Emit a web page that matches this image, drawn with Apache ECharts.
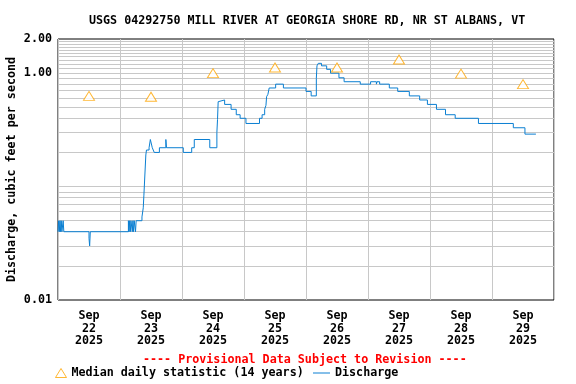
<!DOCTYPE html>
<html>
<head>
<meta charset="utf-8">
<script src="https://cdn.jsdelivr.net/npm/echarts@6/dist/echarts.min.js"></script>
<style>
html,body{margin:0;padding:0;background:#fff;}
#chart{width:576px;height:384px;}
</style>
</head>
<body>
<div id="chart"></div>
<script>
// ---- data ----
const titleText = 'USGS 04292750 MILL RIVER AT GEORGIA SHORE RD, NR ST ALBANS, VT';
const yAxisTitle = 'Discharge, cubic feet per second';
const provisionalText = '---- Provisional Data Subject to Revision ----';
const dayLabels = ['Sep\n22\n2025','Sep\n23\n2025','Sep\n24\n2025','Sep\n25\n2025','Sep\n26\n2025','Sep\n27\n2025','Sep\n28\n2025','Sep\n29\n2025'];
const yTickValues = [0.01, 1, 2];
const yTickLabels = ['0.01', '1.00', '2.00'];
const gridLineValues = [0.02,0.03,0.04,0.05,0.06,0.07,0.08,0.09,0.1,0.2,0.3,0.4,0.5,0.6,0.7,0.8,0.9,1.0,1.1,1.2,1.3,1.4,1.5,1.6,1.7,1.8,1.9];

// hours since Sep 22 00:00 where the discharge changes (value holds until next point)
const dischargeHours = [0,0.25,0.5,0.75,1.0,1.25,1.5,2.0,2.25,12.0,12.25,12.5,
  27.25,27.5,27.75,28.0,28.25,28.75,29.0,29.25,29.5,30.0,30.25,32.5,33.0,33.25,
  34.0,34.25,35.25,35.75,36.5,37.25,39.25,41.75,42.0,48.5,51.75,52.75,58.75,
  61.5,61.75,62.0,62.5,64.5,67.0,69.0,70.5,72.75,78.0,79.0,80.0,80.5,80.75,81.25,81.75,
  84.25,87.25,96.0,98.0,100.0,100.25,100.75,102.0,104.0,105.5,108.75,110.75,
  117.0,121.0,123.25,123.5,124.5,128.25,131.5,136.0,140.0,143.0,146.5,150.0,
  153.75,162.75,176.25,180.75,185.0];
const dischargeValues = [0.04,0.05,0.04,0.05,0.04,0.05,0.04,0.05,0.04,0.035,0.03,0.04,
  0.05,0.04,0.05,0.04,0.05,0.04,0.05,0.04,0.05,0.04,0.05,0.054,0.065,0.084,
  0.19,0.21,0.22,0.26,0.22,0.20,0.22,0.26,0.22,0.20,0.22,0.26,0.22,
  0.30,0.39,0.56,0.58,0.53,0.48,0.43,0.40,0.36,0.40,0.43,0.48,0.52,0.62,0.65,0.74,
  0.80,0.74,0.69,0.63,0.90,1.16,1.22,1.16,1.08,1.00,0.91,0.84,
  0.80,0.84,0.80,0.84,0.80,0.74,0.69,0.63,0.58,0.53,0.48,0.43,
  0.40,0.36,0.33,0.29,0.29];

const medianHours = [12, 36, 60, 84, 108, 132, 156, 180];
const medianValues = [0.63, 0.62, 1.0, 1.12, 1.12, 1.32, 0.99, 0.80];

const seriesNames = ['Median daily statistic (14 years)', 'Discharge'];

// ---- chart ----
const FONT = 'DejaVu Sans Mono';
const txt = {fontFamily: FONT, fontWeight: 'bold', fontSize: 11.7, color: '#000'};
const gridGray = '#c8c8c8';
const lineBlue = '#0a7fd2';

const chart = echarts.init(document.getElementById('chart'), null, {renderer: 'canvas'});
chart.setOption({
  animation: false,
  backgroundColor: '#fff',
  title: [
    {text: titleText, left: 89, top: 15, padding: 0, textStyle: Object.assign({}, txt)},
    {text: provisionalText, left: 143, top: 354, padding: 0, textStyle: Object.assign({}, txt, {color: '#ff0000'})}
  ],
  legend: [
    {data: [{name: seriesNames[0], icon: 'triangle', itemStyle: {color: '#fff', borderColor: '#FFA500', borderWidth: 1}}],
     left: 55, top: 367, padding: 0, itemWidth: 11, itemHeight: 9, itemGap: 5, textStyle: Object.assign({}, txt), selectedMode: false},
    {data: [{name: seriesNames[1], icon: 'rect', itemStyle: {color: lineBlue}}],
     left: 313, top: 367, padding: 0, itemWidth: 17, itemHeight: 1, textStyle: Object.assign({}, txt), selectedMode: false}
  ],
  grid: {left: 58, right: 22, top: 39, bottom: 84, show: true, borderColor: '#000', borderWidth: 1,
         backgroundColor: '#fff', containLabel: false, outerBoundsMode: 'none'},
  xAxis: [
    {type: 'value', min: 0, max: 192, show: false, splitLine: {show: false}},
    {type: 'category', data: dayLabels, boundaryGap: true, position: 'bottom',
     axisLine: {show: false}, axisTick: {show: false},
     axisLabel: Object.assign({}, txt, {margin: 10, lineHeight: 12.5, interval: 0}),
     splitLine: {show: true, interval: 0, lineStyle: {color: gridGray, width: 1}}}
  ],
  yAxis: {
    type: 'log', logBase: 10, min: 0.01, max: 2,
    name: yAxisTitle, nameLocation: 'middle', nameGap: 40, nameRotate: 90, nameMoveOverlap: false,
    nameTextStyle: Object.assign({}, txt),
    axisLine: {show: false}, axisTick: {show: false},
    splitLine: {show: false},
    axisLabel: Object.assign({}, txt, {margin: 6, showMinLabel: true, showMaxLabel: true,
      formatter: function (v) {
        for (let i = 0; i < yTickValues.length; i++) {
          if (Math.abs(Math.log10(v) - Math.log10(yTickValues[i])) < 0.005) return yTickLabels[i];
        }
        return '';
      }})
  },
  series: [
    {
      name: seriesNames[0], type: 'scatter', xAxisIndex: 0,
      symbol: 'triangle', symbolSize: [11, 9],
      itemStyle: {color: '#fff', borderColor: '#FFA500', borderWidth: 1},
      data: medianHours.map((h, i) => [h, medianValues[i]]),
      z: 4,
      markLine: {
        silent: true, symbol: 'none', z: 1, animation: false,
        label: {show: false},
        lineStyle: {color: gridGray, width: 1, type: 'solid'},
        data: gridLineValues.map(v => ({yAxis: v}))
      }
    },
    {
      name: seriesNames[1], type: 'line', xAxisIndex: 0,
      step: 'end', symbol: 'none', showSymbol: false,
      lineStyle: {color: lineBlue, width: 1},
      itemStyle: {color: lineBlue},
      data: dischargeHours.map((h, i) => [h, dischargeValues[i]]),
      z: 3
    }
  ]
});
</script>
</body>
</html>
